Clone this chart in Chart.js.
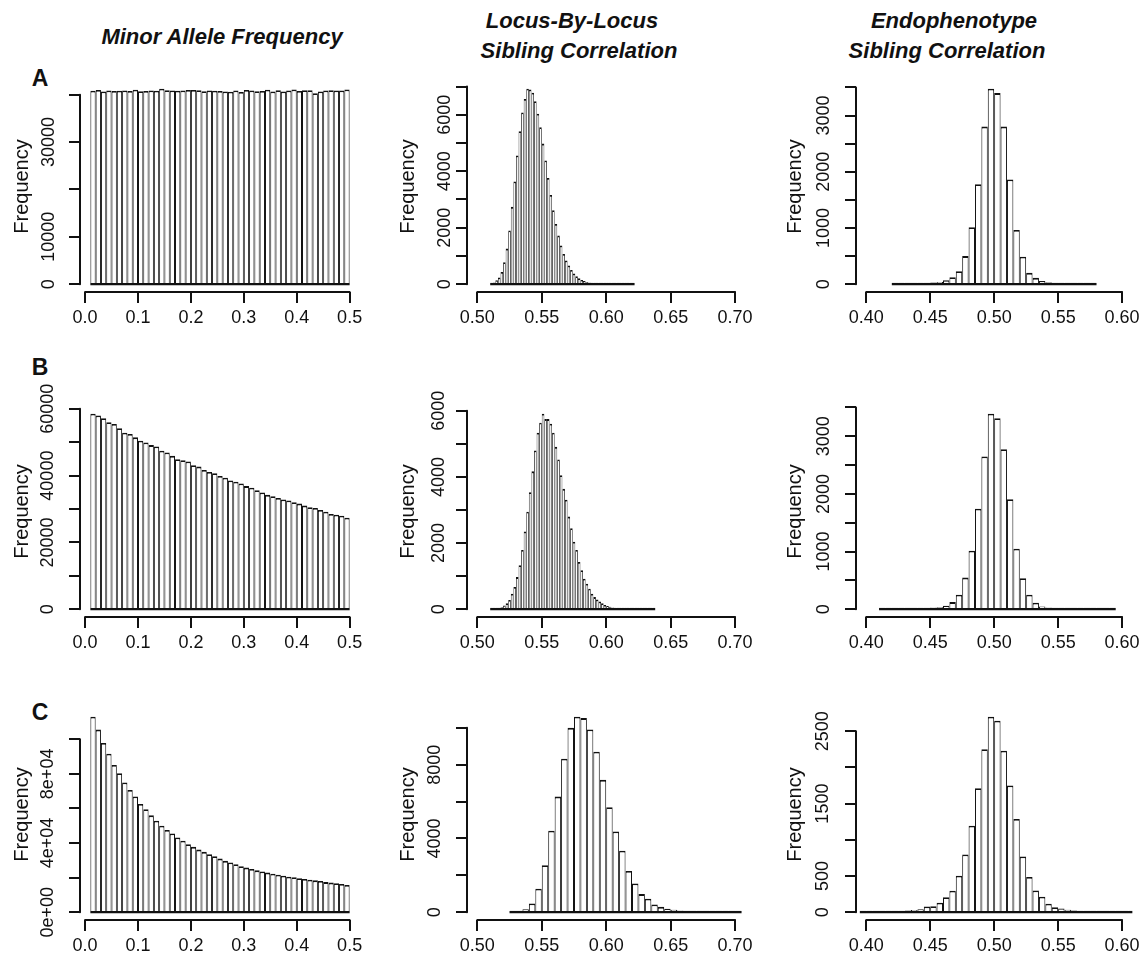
<!DOCTYPE html>
<html>
<head>
<meta charset="utf-8">
<script src="https://cdn.jsdelivr.net/npm/chart.js@4.4.1/dist/chart.umd.min.js"></script>
<style>
  body { margin: 0; width: 1146px; height: 954px; overflow: hidden; background: #fff; position: relative;
         font-family: 'Liberation Sans', Arial, Helvetica, sans-serif; color: #111; }
  canvas { position: absolute; }
  .lbl { position: absolute; transform: translate(-50%, -50%); white-space: nowrap; line-height: 1; }
  .col-title { font-weight: bold; font-style: italic; font-size: 22px; }
  .panel-tag { font-weight: bold; font-size: 23px; }
</style>
</head>
<body>

<div class="lbl col-title" style="left:222px; top:37px;">Minor Allele Frequency</div>
<div class="lbl col-title" style="left:572px; top:21px;">Locus-By-Locus</div>
<div class="lbl col-title" style="left:579px; top:51px;">Sibling Correlation</div>
<div class="lbl col-title" style="left:954px; top:21px;">Endophenotype</div>
<div class="lbl col-title" style="left:947px; top:51px;">Sibling Correlation</div>
<div class="lbl panel-tag" style="left:40px; top:78px;">A</div>
<div class="lbl panel-tag" style="left:40px; top:367px;">B</div>
<div class="lbl panel-tag" style="left:40px; top:712px;">C</div>

<script>
// x-axis limits and tick marks for each column
const mafXlim = [0.01, 0.5];
const locusXlim = [0.5, 0.7];
const endoXlim = [0.4, 0.6];
const mafTicks = [0, 0.1, 0.2, 0.3, 0.4, 0.5];
const locusTicks = [0.50, 0.55, 0.60, 0.65, 0.70];
const endoTicks = [0.40, 0.45, 0.50, 0.55, 0.60];

// histogram counts (first break + bin width per panel)
const countsA1 = [40850, 41000, 40700, 40900, 40800, 40850, 40900, 40800, 41050, 40750,
                  40800, 40900, 40850, 41250, 40950, 40900, 40850, 40900, 41000, 41000,
                  40950, 40750, 40900, 40850, 40800, 40700, 40650, 40900, 40600, 41000,
                  40900, 40750, 40800, 41050, 40700, 40950, 40700, 40900, 41100, 40800,
                  40950, 40950, 40300, 40700, 40900, 40950, 40900, 40900, 41100];
const countsA2 = [20, 60, 140, 240, 430, 780, 1260, 1900, 2740, 3640,
                  4560, 5420, 6080, 6560, 6920, 6900, 6780, 6480, 6040, 5560,
                  4980, 4380, 3760, 3160, 2620, 2130, 1720, 1370, 1070, 840,
                  660, 500, 380, 280, 210, 150, 110, 80, 60, 45,
                  33, 24, 17, 12, 9, 7, 5, 4, 3, 2, 2, 1, 1, 1, 1, 1];
const countsA3 = [2, 4, 6, 9, 14, 20, 28, 40, 70, 125,
                  232, 500, 1012, 1780, 2804, 3476, 3400, 2804, 1863, 964,
                  488, 202, 113, 55, 35, 22, 15, 10, 7, 4, 3, 2];
const countsB1 = [58510, 58010, 57200, 55990, 55490, 54180, 52870, 52470, 51460, 50450,
                  49950, 49140, 48740, 47430, 46930, 45920, 44910, 44610, 44210, 43100,
                  42700, 41690, 41090, 40690, 39880, 39380, 38570, 38170, 37660, 36860,
                  36350, 35650, 34940, 34240, 33840, 33330, 32830, 32530, 32020, 31620,
                  31020, 30510, 30310, 29710, 29200, 28500, 28300, 28000, 27390];
const countsB2 = [10, 10, 20, 30, 60, 110, 180, 280, 470, 670,
                  970, 1330, 1790, 2350, 2950, 3540, 4170, 4800, 5340, 5640,
                  5910, 5750, 5750, 5610, 5340, 4910, 4530, 4050, 3640, 3310,
                  2800, 2450, 2040, 1790, 1430, 1180, 920, 770, 620, 470,
                  365, 295, 235, 180, 130, 100, 70, 50, 35, 25,
                  18, 12, 9, 7, 5, 4, 3, 2, 2, 1, 1, 1, 1, 1];
const countsB3 = [1, 1, 2, 3, 4, 7, 12, 20, 29, 35,
                  58, 123, 251, 548, 1015, 1744, 2649, 3390, 3314, 2777,
                  1908, 1050, 537, 251, 111, 47, 29, 18, 12, 8,
                  6, 4, 3, 2, 2, 1, 1];
const countsC1 = [113000, 105600, 97900, 91700, 85100, 80400, 75000, 70700, 66900, 62600,
                  59500, 56000, 52900, 50000, 47500, 45500, 43200, 41300, 39300, 37800,
                  36200, 34900, 33500, 32400, 31000, 29700, 28700, 27700, 26600, 25800,
                  25000, 24200, 23600, 22900, 22300, 21700, 21100, 20500, 20200, 19600,
                  19200, 18800, 18400, 18000, 17400, 17100, 16700, 16300, 15700];
const countsC2 = [20, 55, 160, 470, 1270, 2550, 4420, 6270, 8330, 10000,
                  10600, 10530, 9910, 8710, 7180, 5690, 4380, 3330, 2240, 1560,
                  980, 730, 420, 290, 180, 130, 90, 60, 45, 30,
                  20, 15, 10, 7, 5, 3];
const countsC3 = [2, 3, 4, 5, 7, 10, 15, 22, 30, 42,
                  79, 83, 130, 208, 296, 505, 796, 1194, 1713, 2250,
                  2699, 2644, 2231, 1750, 1287, 769, 486, 301, 213, 116,
                  69, 51, 32, 22, 16, 11, 8, 6, 4, 3, 2, 2, 1];

// y-axis ticks and the labels R kept (blank = skipped)
const yTicksA1 = [0, 10000, 20000, 30000, 40000];
const yLabelsA1 = ['0', '10000', '', '30000', ''];
const yTicksA2 = [0, 1000, 2000, 3000, 4000, 5000, 6000, 7000];
const yLabelsA2 = ['0', '', '2000', '', '4000', '', '6000', ''];
const yTicksA3 = [0, 500, 1000, 1500, 2000, 2500, 3000, 3500];
const yLabelsA3 = ['0', '', '1000', '', '2000', '', '3000', ''];
const yTicksB1 = [0, 10000, 20000, 30000, 40000, 50000, 60000];
const yLabelsB1 = ['0', '', '20000', '', '40000', '', '60000'];
const yTicksB2 = [0, 1000, 2000, 3000, 4000, 5000, 6000];
const yLabelsB2 = ['0', '', '2000', '', '4000', '', '6000'];
const yTicksB3 = [0, 500, 1000, 1500, 2000, 2500, 3000, 3500];
const yLabelsB3 = ['0', '', '1000', '', '2000', '', '3000', ''];
const yTicksC1 = [0, 20000, 40000, 60000, 80000, 100000];
const yLabelsC1 = ['0e+00', '', '4e+04', '', '8e+04', ''];
const yTicksC2 = [0, 2000, 4000, 6000, 8000, 10000];
const yLabelsC2 = ['0', '', '4000', '', '8000', ''];
const yTicksC3 = [0, 500, 1000, 1500, 2000, 2500];
const yLabelsC3 = ['0', '500', '', '1500', '', '2500'];

const ink = '#111';
const fontFamily = "'Liberation Sans', Arial, Helvetica, sans-serif";
const lineW = 2;

// page layout of the plot regions
const colLeft = [80, 467, 856];
const colWidth = [280, 280, 278];
const rowTop = [81, 406, 709];
const areaHeight = 211;
const yAxisBox = 80, xAxisBox = 34, padTop = 30, padRight = 10;
const titlePad = [10.5, 9.5, 7.3];

const columns = [
  { xlim: mafXlim, ticks: mafTicks, digits: 1 },
  { xlim: locusXlim, ticks: locusTicks, digits: 2 },
  { xlim: endoXlim, ticks: endoTicks, digits: 2 }
];

const panels = [
  { row: 0, col: 0, start: 0.01, step: 0.01, counts: countsA1, yTicks: yTicksA1, yLabels: yLabelsA1, gap: 31, side: 1.0 },
  { row: 0, col: 1, start: 0.51, step: 0.002, counts: countsA2, yTicks: yTicksA2, yLabels: yLabelsA2, gap: 22, side: 0.8 },
  { row: 0, col: 2, start: 0.42, step: 0.005, counts: countsA3, yTicks: yTicksA3, yLabels: yLabelsA3, gap: 32, side: 1.0 },
  { row: 1, col: 0, start: 0.01, step: 0.01, counts: countsB1, yTicks: yTicksB1, yLabels: yLabelsB1, gap: 32, side: 1.0 },
  { row: 1, col: 1, start: 0.51, step: 0.002, counts: countsB2, yTicks: yTicksB2, yLabels: yLabelsB2, gap: 28, side: 0.8 },
  { row: 1, col: 2, start: 0.41, step: 0.005, counts: countsB3, yTicks: yTicksB3, yLabels: yLabelsB3, gap: 32, side: 1.0 },
  { row: 2, col: 0, start: 0.01, step: 0.01, counts: countsC1, yTicks: yTicksC1, yLabels: yLabelsC1, gap: 32, side: 1.0 },
  { row: 2, col: 1, start: 0.525, step: 0.005, counts: countsC2, yTicks: yTicksC2, yLabels: yLabelsC2, gap: 32, side: 1.0 },
  { row: 2, col: 2, start: 0.395, step: 0.005, counts: countsC3, yTicks: yTicksC3, yLabels: yLabelsC3, gap: 33, side: 1.0 }
];

// R-style axes: line only from first to last tick, y labels parallel to the axis,
// plus the shared bottom edge of the histogram rectangles at zero
const rAxes = {
  id: 'rAxes',
  afterDraw(chart, args, opts) {
    const { ctx, chartArea, scales: { x, y } } = chart;
    ctx.save();
    ctx.strokeStyle = ink;
    ctx.lineWidth = lineW;
    ctx.lineCap = 'round';
    ctx.beginPath();
    ctx.moveTo(x.getPixelForValue(opts.xTicks[0]), chartArea.bottom);
    ctx.lineTo(x.getPixelForValue(opts.xTicks[opts.xTicks.length - 1]), chartArea.bottom);
    ctx.moveTo(chartArea.left, y.getPixelForValue(opts.yTicks[0]));
    ctx.lineTo(chartArea.left, y.getPixelForValue(opts.yTicks[opts.yTicks.length - 1]));
    ctx.stroke();

    // bottom edges of the bars
    ctx.save();
    ctx.beginPath();
    ctx.rect(chartArea.left, chartArea.top, chartArea.right - chartArea.left, chartArea.bottom - chartArea.top);
    ctx.clip();
    ctx.lineCap = 'butt';
    ctx.lineWidth = 2.2;
    const y0 = y.getPixelForValue(0);
    ctx.beginPath();
    ctx.moveTo(x.getPixelForValue(opts.binLo), y0);
    ctx.lineTo(x.getPixelForValue(opts.binHi), y0);
    ctx.stroke();
    ctx.restore();

    ctx.fillStyle = ink;
    ctx.font = '18px ' + fontFamily;
    ctx.textAlign = 'center';
    ctx.textBaseline = 'middle';
    opts.yLabels.forEach((txt, i) => {
      if (!txt) return;
      ctx.save();
      ctx.translate(chartArea.left - opts.gap, y.getPixelForValue(opts.yTicks[i]));
      ctx.rotate(-Math.PI / 2);
      ctx.fillText(txt, 0, 0);
      ctx.restore();
    });
    ctx.restore();
  }
};

panels.forEach(p => {
  const c = columns[p.col];
  const span = c.xlim[1] - c.xlim[0];
  const maxCount = Math.max(...p.counts);

  const canvas = document.createElement('canvas');
  canvas.width = yAxisBox + colWidth[p.col] + padRight;
  canvas.height = padTop + areaHeight + xAxisBox;
  canvas.style.left = (colLeft[p.col] - yAxisBox) + 'px';
  canvas.style.top = (rowTop[p.row] - padTop) + 'px';
  document.body.appendChild(canvas);

  const points = p.counts.map((n, i) => ({ x: p.start + p.step * (i + 0.5), y: n }));

  new Chart(canvas.getContext('2d'), {
    type: 'bar',
    data: {
      datasets: [{
        data: points,
        backgroundColor: '#fff',
        borderColor: ink,
        borderWidth: { top: 1.8, bottom: 0, left: p.side, right: p.side },
        borderSkipped: false,
        inflateAmount: 0,
        minBarLength: 1.5,
        barPercentage: 1,
        categoryPercentage: 1,
        clip: 0
      }]
    },
    plugins: [rAxes],
    options: {
      responsive: false,
      animation: false,
      events: [],
      layout: { padding: { top: padTop, right: padRight, bottom: 0, left: 0 } },
      plugins: {
        legend: { display: false },
        tooltip: { enabled: false },
        rAxes: {
          xTicks: c.ticks, yTicks: p.yTicks, yLabels: p.yLabels, gap: p.gap,
          binLo: p.start, binHi: p.start + p.step * p.counts.length
        }
      },
      scales: {
        x: {
          type: 'linear',
          offset: false,
          min: c.xlim[0] - 0.04 * span,
          max: c.xlim[1] + 0.04 * span,
          afterBuildTicks: axis => { axis.ticks = c.ticks.map(v => ({ value: v })); },
          afterFit: axis => { axis.height = xAxisBox; },
          border: { display: false },
          grid: { offset: false, drawOnChartArea: false, drawTicks: true, tickLength: 11, color: ink, lineWidth: lineW },
          ticks: {
            autoSkip: false, maxRotation: 0, minRotation: 0, padding: 4, color: ink,
            font: { family: fontFamily, size: 18 },
            callback: v => Number(v).toFixed(c.digits)
          }
        },
        y: {
          type: 'linear',
          min: -0.04 * maxCount,
          max: 1.04 * maxCount,
          afterBuildTicks: axis => { axis.ticks = p.yTicks.map(v => ({ value: v })); },
          afterFit: axis => { axis.width = yAxisBox; },
          border: { display: false },
          grid: { drawOnChartArea: false, drawTicks: true, tickLength: 11, color: ink, lineWidth: lineW },
          ticks: { display: false },
          title: {
            display: true,
            text: 'Frequency',
            color: ink,
            font: { family: fontFamily, size: 20 },
            padding: { top: titlePad[p.col], bottom: 0 }
          }
        }
      }
    }
  });
});
</script>
</body>
</html>
